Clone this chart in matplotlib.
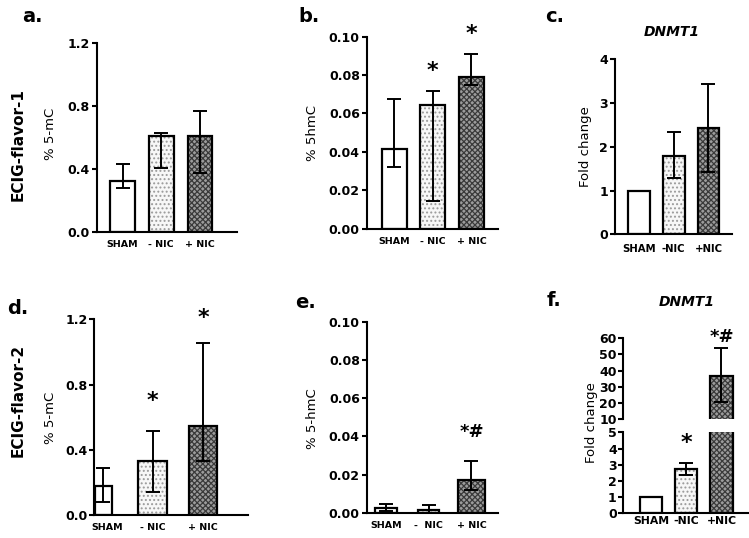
import matplotlib
matplotlib.use("Agg")
import matplotlib.pyplot as plt
import numpy as np

# ---------------- data ----------------
groups_a = ["SHAM", "- NIC", "+ NIC"]
groups_c = ["SHAM", "-NIC", "+NIC"]
groups_e = ["SHAM", "-  NIC", "+ NIC"]

a_mean = [0.323, 0.610, 0.610]
a_lo = [0.277, 0.405, 0.376]
a_hi = [0.429, 0.629, 0.770]

b_mean = [0.0414, 0.0643, 0.0789]
b_lo = [0.0323, 0.0144, 0.0747]
b_hi = [0.0677, 0.0719, 0.0910]

c_mean = [1.0, 1.80, 2.43]
c_lo = [1.0, 1.28, 1.42]
c_hi = [1.0, 2.34, 3.43]

d_mean = [0.180, 0.333, 0.548]
d_lo = [0.082, 0.143, 0.333]
d_hi = [0.290, 0.515, 1.057]

e_mean = [0.0027, 0.0012, 0.0171]
e_lo = [0.0010, 0.0000, 0.0119]
e_hi = [0.0045, 0.0038, 0.0271]

f_mean = [1.0, 2.72, 36.8]
f_lo = [1.0, 2.36, 20.3]
f_hi = [1.0, 3.09, 54.2]

# ---------------- style ----------------
plt.rcParams["font.family"] = ["DejaVu Sans"]
plt.rcParams["font.weight"] = "bold"
plt.rcParams["hatch.linewidth"] = 0.9

W, H = 749, 538
fig = plt.figure(figsize=(W / 100, H / 100), dpi=100)


def fx(px):
    return px / W


def fy(py):
    return 1 - py / H


def make_ax(left, right, top, bottom):
    ax = fig.add_axes([fx(left), fy(bottom), (right - left) / W, (bottom - top) / H])
    ax.patch.set_alpha(0)
    ax.spines["top"].set_visible(False)
    ax.spines["right"].set_visible(False)
    for s in ("left", "bottom"):
        ax.spines[s].set_linewidth(1.5)
    ax.tick_params(axis="y", direction="out", length=3.5, width=1.5, labelsize=9, pad=1.5)
    ax.tick_params(axis="x", length=0, labelsize=6.8, pad=6)
    return ax


fills = [
    dict(facecolor="white", hatch=None, hc="white"),
    dict(facecolor="#f7f7f7", hatch="....", hc="#9a9a9a"),
    dict(facecolor="#9c9c9c", hatch="xxxxxx", hc="#3a3a3a"),
]


def draw_bars(ax, pos, mean, lo, hi, width):
    for i, (p, m) in enumerate(zip(pos, mean)):
        f = fills[i]
        w = width[i] if np.iterable(width) else width
        ax.bar(p, m, width=w, color=f["facecolor"], hatch=f["hatch"],
               edgecolor=f["hc"], linewidth=0, zorder=2)
        ax.bar(p, m, width=w, fill=False, edgecolor="black", linewidth=1.6, zorder=3)
        if hi[i] != m or lo[i] != m:
            ax.errorbar(p, m, yerr=[[m - lo[i]], [hi[i] - m]], fmt="none",
                        ecolor="black", elinewidth=1.4, capsize=5, capthick=1.4, zorder=4)


def finish_x(ax, pos, labels, xlim):
    ax.set_xlim(*xlim)
    ax.set_xticks(pos)
    ax.set_xticklabels(labels, fontweight="bold")


def set_y(ax, lim, ticks, labels):
    ax.set_ylim(*lim)
    ax.set_yticks(ticks)
    ax.set_yticklabels(labels, fontweight="bold")


pos = [0, 1, 2]

# ---- panel a ----
ax = make_ax(96.7, 237, 42.7, 232)
draw_bars(ax, pos, a_mean, a_lo, a_hi, 0.645)
set_y(ax, (0, 1.2), [0.0, 0.4, 0.8, 1.2], ["0.0", "0.4", "0.8", "1.2"])
finish_x(ax, pos, groups_a, (-0.666, 2.955))

# ---- panel b ----
ax = make_ax(366.7, 498, 36.7, 228.7)
draw_bars(ax, pos, b_mean, b_lo, b_hi, 0.647)
set_y(ax, (0, 0.10), np.arange(0, 0.101, 0.02),
      ["0.00", "0.02", "0.04", "0.06", "0.08", "0.10"])
finish_x(ax, pos, groups_a, (-0.711, 2.686))
ax.text(1, 0.0822, "*", ha="center", va="center", fontsize=16, clip_on=False)
ax.text(2, 0.1015, "*", ha="center", va="center", fontsize=16, clip_on=False)

# ---- panel c ----
ax = make_ax(615, 731.7, 59.3, 234.3)
draw_bars(ax, pos, c_mean, c_lo, c_hi, 0.63)
set_y(ax, (0, 4), [0, 1, 2, 3, 4], ["0", "1", "2", "3", "4"])
finish_x(ax, pos, groups_c, (-0.683, 2.666))
ax.tick_params(axis="x", labelsize=7.3, pad=7)

# ---- panel d ----
ax = make_ax(94.3, 248, 319.3, 515)
pos_d = [0.02, 1, 2]
draw_bars(ax, pos_d, d_mean, d_lo, d_hi, [0.34, 0.57, 0.56])
set_y(ax, (0, 1.2), [0.0, 0.4, 0.8, 1.2], ["0.0", "0.4", "0.8", "1.2"])
finish_x(ax, [0.1, 1, 2], groups_a, (-0.155, 2.89))
ax.text(1, 0.70, "*", ha="center", va="center", fontsize=16, clip_on=False)
ax.text(2, 1.21, "*", ha="center", va="center", fontsize=16, clip_on=False)

# ---- panel e ----
ax = make_ax(366.7, 498, 321.7, 512.7)
draw_bars(ax, pos, e_mean, e_lo, e_hi, [0.5, 0.5, 0.62])
set_y(ax, (0, 0.10), np.arange(0, 0.101, 0.02),
      ["0.00", "0.02", "0.04", "0.06", "0.08", "0.10"])
finish_x(ax, pos, groups_e, (-0.446, 2.62))
ax.text(2, 0.0425, "*#", ha="center", va="center", fontsize=13, clip_on=False)

# ---- panel f (broken axis) ----
axb = make_ax(623, 748, 432.3, 513.3)
draw_bars(axb, pos, f_mean, f_lo, f_hi, 0.63)
set_y(axb, (0, 5), [0, 1, 2, 3, 4, 5], [str(v) for v in range(6)])
finish_x(axb, pos, groups_c, (-0.806, 2.755))
axb.tick_params(axis="x", labelsize=7.8, pad=2)
axb.tick_params(axis="y", pad=1)
axb.text(1, 4.35, "*", ha="center", va="center", fontsize=16, clip_on=False)

axt = make_ax(623, 748, 338.3, 419)
axt.spines["bottom"].set_visible(False)
draw_bars(axt, pos, f_mean, f_lo, f_hi, 0.63)
set_y(axt, (10, 60), [10, 20, 30, 40, 50, 60], [str(v) for v in range(10, 61, 10)])
axt.set_xlim(-0.806, 2.755)
axt.set_xticks([])
axt.tick_params(axis="y", pad=1)
axt.text(2, 61, "*#", ha="center", va="center", fontsize=13, clip_on=False)

# ---------------- figure texts ----------------
for lab, x, y in [("a.", 22, 16), ("b.", 298, 16), ("c.", 545, 16),
                  ("d.", 7, 308), ("e.", 295, 303), ("f.", 547, 300)]:
    fig.text(fx(x), fy(y), lab, ha="left", va="center", fontsize=14, fontweight="bold")

fig.text(fx(18), fy(145), "ECIG-flavor-1", rotation=90, ha="center", va="center",
         fontsize=11, fontweight="bold")
fig.text(fx(18), fy(400), "ECIG-flavor-2", rotation=90, ha="center", va="center",
         fontsize=11, fontweight="bold")

for lab, x, y in [("% 5-mC", 51, 134), ("% 5hmC", 312, 133), ("Fold change", 585, 147),
                  ("% 5-mC", 50, 418), ("% 5-hmC", 312, 419), ("Fold change", 592, 423)]:
    fig.text(fx(x), fy(y), lab, rotation=90, ha="center", va="center",
             fontsize=9.5, fontweight="normal")

fig.text(fx(672), fy(32), "DNMT1", ha="center", va="center", fontsize=10,
         fontweight="bold", style="italic")
fig.text(fx(687), fy(302), "DNMT1", ha="center", va="center", fontsize=10,
         fontweight="bold", style="italic")

fig.savefig("out.png", dpi=100)
